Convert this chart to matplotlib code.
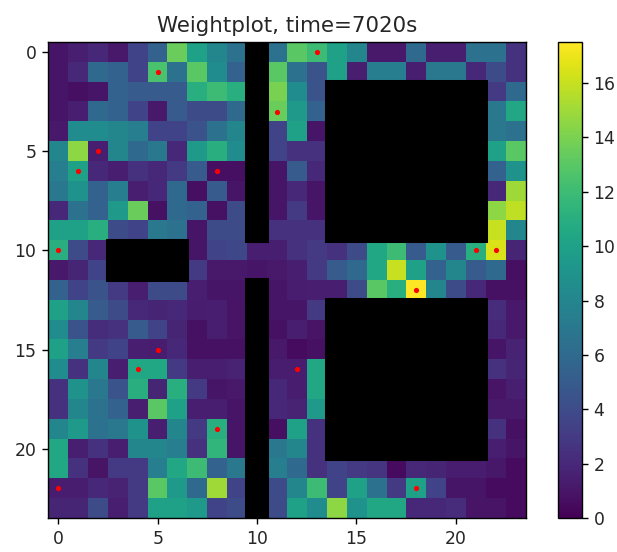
import numpy as np
import matplotlib
matplotlib.use('Agg')
import matplotlib.pyplot as plt
from matplotlib.patches import Rectangle

N = np.nan

# weight per cell, nan = wall
weights = [
    [1, 1.5, 2, 1.2, 3.5, 5.5, 13.5, 10, 8, 6.5, N, 6.5, 13, 12, 10, 8, 1.2, 1.2, 6, 1.5, 1.5, 6.5, 6.5, 2.5],
    [1, 2, 6, 5.5, 3.5, 12.5, 6.5, 13, 8.5, 5.5, N, 13, 6.5, 4.5, 10, 1.5, 7.5, 7.5, 1.5, 7, 7, 2, 4, 2.5],
    [1, 0.7, 1, 5.5, 5, 5, 5, 11, 12, 11, N, 14, 8.5, 4.5, N, N, N, N, N, N, N, N, 3, 6],
    [1, 1.5, 6, 5.5, 3.5, 1.2, 5, 4, 4, 6, N, 13.5, 9.5, 5.5, N, N, N, N, N, N, N, N, 7, 10.5],
    [1.2, 8.5, 8.5, 8, 7.5, 3.5, 3.5, 4.5, 6.5, 8, N, 3.5, 10, 1, N, N, N, N, N, N, N, N, 7, 6.5],
    [8, 14.5, 1.5, 8, 6, 7, 2, 9.5, 11, 8.5, N, 3.5, 2.5, 2.5, N, N, N, N, N, N, N, N, 10, 13],
    [7.5, 10, 2, 1.5, 2.5, 2, 3, 5, 0.7, 0.7, N, 1, 5, 2, N, N, N, N, N, N, N, N, 5.5, 9],
    [7, 9, 5.5, 7.5, 1.5, 2, 6, 0.7, 5, 1, N, 1, 2, 1, N, N, N, N, N, N, N, N, 2, 15],
    [2, 6.5, 5.5, 9.5, 13.5, 0.8, 6, 5.5, 0.8, 4, N, 1, 3, 1, N, N, N, N, N, N, N, N, 14.5, 15.8],
    [10, 10, 11, 4, 3.5, 7, 6.5, 1, 4, 4, N, 2.5, 2.5, 2.5, N, N, N, N, N, N, N, N, 16, 8],
    [11, 4, 2, N, N, N, N, 1, 3.5, 3.8, 1.5, 1.5, 2.5, 3, 2.5, 4, 10.5, 12, 5, 9, 5, 11, 16.5, 1.8],
    [1.2, 1.8, 3.5, N, N, N, N, 3, 1.2, 1.2, 1, 1.2, 1.5, 3, 5, 6, 10.5, 16, 10, 5.5, 8, 5, 6, 0.7],
    [5.5, 3.5, 4.5, 3, 1.5, 4, 4, 1.5, 1, 1, N, 1, 1.3, 1.5, 1.5, 4, 13, 11, 17.5, 8, 4, 2, 0.8, 0.8],
    [10, 8, 5, 4, 2, 1.8, 2, 1.3, 1.5, 0.9, N, 1, 1, 3, N, N, N, N, N, N, N, N, 2.2, 1.2],
    [8.5, 4.5, 2.3, 2.5, 5, 3.5, 1.8, 0.8, 1.5, 0.9, N, 0.8, 1.5, 0.9, N, N, N, N, N, N, N, N, 2, 1.2],
    [10, 7.5, 3, 3.5, 1.5, 1.3, 2, 0.8, 0.8, 0.8, N, 1.2, 0.5, 0.8, N, N, N, N, N, N, N, N, 1, 1.7],
    [8.5, 2.5, 8, 1.5, 10.5, 10.5, 3, 1.5, 1.5, 1.7, N, 1.3, 1.3, 10.5, N, N, N, N, N, N, N, N, 2.5, 1.8],
    [2.5, 9, 7, 4.5, 11, 1.8, 11, 3, 1, 1.2, N, 2, 1.3, 10.5, N, N, N, N, N, N, N, N, 0.9, 1.5],
    [2.5, 8, 6.5, 5.5, 1.5, 13, 10, 1.5, 1.5, 1, N, 2, 1.7, 9.5, N, N, N, N, N, N, N, N, 1.2, 1.2],
    [8, 9.5, 6.5, 7, 9, 1.5, 8, 3, 11, 1, N, 0.7, 10, 2.5, N, N, N, N, N, N, N, N, 2.5, 0.8],
    [10.5, 1.5, 2.5, 1.5, 8, 8, 7.5, 2.5, 11.5, 1, N, 7, 8, 2.5, N, N, N, N, N, N, N, N, 1.5, 1],
    [10.5, 2.5, 0.9, 3, 3, 7.5, 10.5, 12, 5.5, 7, N, 7.5, 6, 2.5, 3.5, 3, 2.7, 0.5, 2, 1.8, 1.3, 1.3, 1.1, 0.5],
    [1.3, 1.3, 2, 1.7, 3, 13, 9.5, 6, 15, 3.5, N, 4, 8, 12, 3.5, 10, 6.5, 3, 10, 3.5, 1, 1, 0.5, 0.5],
    [1.8, 1.8, 4, 1.5, 3, 10, 10, 9.5, 3.5, 4, N, 4, 10, 8.5, 14.5, 9, 10.5, 10.5, 2, 2, 2.2, 0.9, 0.9, 0.5],
]
dots_x = [13, 5, 11, 2, 1, 8, 0, 21, 22, 18, 5, 4, 12, 8, 0, 18]
dots_y = [0, 1, 3, 5, 6, 6, 10, 10, 10, 12, 15, 16, 16, 19, 22, 22]
# walls as first col, first row, cols, rows
wall_col = [10, 10, 3, 14, 14]
wall_row = [0, 12, 10, 2, 13]
wall_w = [1, 1, 4, 8, 8]
wall_h = [10, 12, 2, 8, 8]

plt.rcParams['axes.linewidth'] = 1.0
plt.rcParams['text.color'] = '#262626'
plt.rcParams['xtick.labelcolor'] = '#262626'
plt.rcParams['ytick.labelcolor'] = '#262626'

W, H = 617, 552
fig = plt.figure(figsize=(W / 100, H / 100), dpi=100)
ax = fig.add_axes([48.3 / W, 1 - 518 / H, 477.2 / W, 475.7 / H])
cax = fig.add_axes([558 / W, 1 - 518 / H, 23.5 / W, 475.7 / H])

cmap = plt.get_cmap('viridis').copy()
cmap.set_bad('black')
im = ax.imshow(np.array(weights), cmap=cmap, vmin=0, vmax=17.5, aspect='auto')
for c, r, w, h in zip(wall_col, wall_row, wall_w, wall_h):
    ax.add_patch(Rectangle((c - 0.5, r - 0.5), w, h, facecolor='black', edgecolor='black', linewidth=2.9))
ax.scatter(dots_x, dots_y, s=14, c='red', linewidths=0, zorder=3)
ax.set_xticks([0, 5, 10, 15, 20])
ax.set_yticks([0, 5, 10, 15, 20])
ax.tick_params(labelsize=12.4, length=4.3, width=1.0, pad=4.3)
ax.set_title('Weightplot, time=7020s', fontsize=15.4, pad=7.5)

cb = fig.colorbar(im, cax=cax)
cb.set_ticks(range(0, 17, 2))
cb.ax.tick_params(labelsize=12.4, length=4.3, width=1.0, pad=4.3)

fig.savefig('out.png', dpi=100)
